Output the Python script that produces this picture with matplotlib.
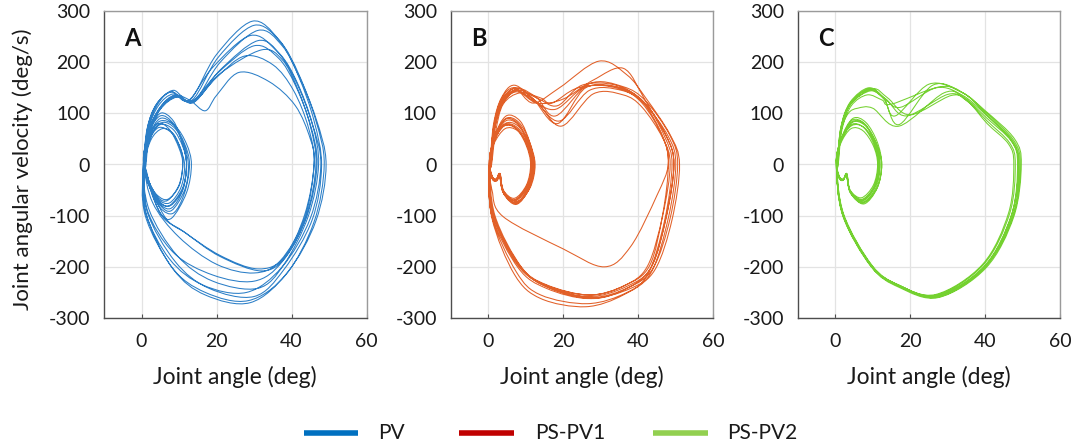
import numpy as np
import matplotlib
matplotlib.use("Agg")
import matplotlib.pyplot as plt
from matplotlib.path import Path
from matplotlib.patches import PathPatch
from matplotlib.lines import Line2D

plt.rcParams['font.family'] = ['Lato', 'DejaVu Sans']
plt.rcParams['axes.unicode_minus'] = False

# ---------------- data ----------------
# Each cycle = one big loop + one small inner loop (anchor points: joint angle [deg], velocity [deg/s])

# Panel A (PV)
A_big_angle = [
    [0.5, 1.5, 4, 8, 13, 20, 29.5, 36.5, 41.5, 46.5, 49.2, 46.5, 39, 29, 17, 8.5, 1],
    [0.8, 1.8, 4.5, 8.5, 13.5, 20.5, 30, 37, 42, 46.5, 48.7, 46, 38.5, 28.5, 17, 8, 1.2],
    [1, 2, 5, 9, 14, 21, 31, 37.5, 42, 46, 48, 45.5, 38, 30, 18, 9, 1.5],
    [0.6, 1.6, 4, 8, 12.5, 19, 29, 36, 41, 45.5, 47.8, 45, 37.5, 28, 16.5, 7.5, 1],
    [1.2, 2.2, 5, 9, 14, 21, 31, 37, 41.5, 45.5, 47.2, 44.5, 38, 31, 19, 9.5, 2],
    [0.8, 2, 4.5, 8.5, 13.5, 20.5, 30, 36.5, 41, 45, 46.8, 44, 37.5, 30, 19, 8.5, 1.5],
    [1, 2, 5, 9.5, 14, 21, 32, 37.5, 41.5, 45, 46.5, 44, 38.5, 32, 21, 12, 6],
    [1, 2, 5, 9, 14, 20, 27.5, 35, 40.5, 44.5, 46, 43.5, 38, 31, 21, 11, 5],
    [1, 2, 5, 9, 13, 17, 20, 26, 34, 41, 45, 46, 43.5, 37, 30, 20, 10, 3],
]
A_big_velocity = [
    [0, 70, 118, 142, 127, 215, 280, 245, 180, 90, 0, -110, -210, -270, -255, -205, -100],
    [3, 72, 120, 145, 126, 210, 272, 240, 175, 85, 0, -112, -215, -266, -250, -200, -95],
    [0, 65, 112, 136, 124, 200, 262, 232, 170, 85, -3, -108, -205, -258, -242, -190, -92],
    [0, 72, 118, 142, 125, 190, 252, 222, 165, 80, 0, -105, -200, -250, -236, -185, -92],
    [0, 68, 112, 134, 122, 185, 242, 215, 160, 80, 0, -100, -195, -242, -228, -178, -88],
    [0, 70, 115, 138, 124, 180, 232, 208, 155, 78, 0, -102, -190, -228, -216, -172, -88],
    [0, 60, 108, 132, 122, 178, 224, 205, 150, 75, 0, -100, -180, -208, -180, -135, -100],
    [0, 62, 108, 132, 124, 170, 212, 195, 145, 72, 0, -98, -182, -204, -178, -130, -95],
    [0, 65, 110, 135, 125, 105, 135, 180, 162, 115, 50, 0, -105, -188, -212, -195, -142, -75],
]
A_loop_angle = [
    [0.5, 2, 5, 9, 12, 13.3, 12, 8, 5, 2.5, 1],
    [0.5, 2, 5, 8.5, 11, 12, 11, 7.5, 4.5, 2, 1],
    [1, 2.5, 5.5, 9, 11.5, 12.5, 11.5, 8, 5, 2.5, 1.2],
    [0.8, 2, 4.5, 8, 10.5, 11, 10, 7, 4.5, 2, 1],
    [0.5, 1.8, 5, 8.5, 11, 12, 11, 8, 5, 2.2, 0.8],
    [1, 2.5, 5.5, 8.5, 10.5, 11.5, 10.5, 7.5, 4.5, 2.2, 1],
    [0.7, 2.2, 5, 8.5, 11.5, 12.8, 11.5, 8.5, 5, 2.5, 1],
    [0.6, 2, 4.5, 7.5, 10, 11, 10, 7, 4.2, 2, 0.9],
    [0.8, 2.2, 5, 8.5, 11, 12, 11, 7.8, 5, 2.5, 1],
]
A_loop_velocity = [
    [0, 55, 85, 75, 40, 0, -55, -105, -95, -50, -10],
    [0, 50, 78, 68, 35, 0, -45, -80, -72, -40, -8],
    [0, 55, 82, 70, 35, -5, -50, -90, -80, -45, -10],
    [0, 45, 72, 62, 30, 0, -40, -70, -65, -35, -8],
    [0, 60, 95, 80, 40, 0, -50, -85, -78, -45, -12],
    [0, 48, 70, 60, 28, -3, -45, -75, -68, -38, -8],
    [0, 58, 90, 78, 40, 0, -55, -95, -85, -48, -10],
    [0, 52, 80, 68, 32, 0, -42, -68, -60, -35, -8],
    [0, 62, 100, 85, 40, 0, -48, -80, -74, -42, -10],
]

# Panel B (PS-PV1)
B_big_angle = [
    [0.5, 1.5, 3.5, 7.5, 12, 18.5, 26, 35, 41.5, 47.5, 49.5, 47.5, 43.5, 37, 27, 16, 8.5, 1.5],
    [0.8, 1.8, 4, 8, 13, 18, 27, 36, 42, 48.5, 50.5, 48.5, 44, 37.5, 27.5, 16, 8.5, 1.5],
    [0.6, 1.6, 3.8, 7.5, 13, 19.5, 28, 36, 41, 46.5, 48.5, 46.5, 42.5, 36.5, 27, 15.5, 8, 1.2],
    [0.5, 1.5, 3.5, 7, 12, 19, 29.5, 37, 42, 48.5, 51, 49, 44.5, 38, 27, 15.5, 8, 1],
    [0.7, 1.7, 4, 7.5, 13, 20, 28, 36, 41.5, 47, 49, 47, 42.5, 36, 26, 14, 7, 1],
    [0.5, 1.5, 3.5, 7, 12, 18, 26, 35, 41, 46.5, 48, 45, 38, 31, 20, 4, 1],
    [0.6, 1.6, 3.8, 8, 13.5, 18.5, 25, 34, 41, 46.5, 48, 46.5, 43, 36.5, 27, 15.5, 8.5, 1.3],
    [0.9, 2, 4, 8.5, 14, 17, 24, 34, 41.5, 47.5, 49.5, 47.5, 43.5, 37.5, 28, 16.5, 9, 1.8],
    [0.5, 1.4, 3.5, 7, 12.5, 19, 27, 35.5, 41.5, 48, 50, 48, 43.5, 37, 26.5, 14, 7.5, 1],
]
B_big_velocity = [
    [0, 75, 125, 150, 128, 80, 150, 150, 122, 55, 0, -100, -200, -238, -258, -238, -200, -100],
    [0, 72, 122, 148, 130, 95, 158, 152, 124, 56, 0, -105, -202, -240, -260, -240, -200, -100],
    [0, 68, 118, 142, 122, 75, 138, 136, 112, 52, 0, -100, -198, -236, -255, -236, -198, -98],
    [0, 75, 128, 150, 120, 150, 202, 175, 130, 58, 0, -108, -205, -242, -262, -242, -202, -100],
    [0, 72, 125, 145, 120, 128, 165, 188, 130, 55, 0, -110, -215, -255, -278, -262, -215, -105],
    [0, 70, 122, 148, 125, 108, 152, 148, 120, 54, 0, -60, -160, -200, -165, -102, -50],
    [0, 70, 120, 145, 128, 115, 155, 155, 124, 55, 0, -98, -198, -236, -255, -235, -198, -98],
    [0, 65, 118, 140, 130, 120, 150, 152, 122, 55, 0, -102, -200, -240, -262, -242, -202, -100],
    [0, 78, 130, 155, 125, 85, 145, 145, 120, 55, 0, -105, -210, -250, -272, -255, -210, -102],
]
B_loop_angle = [
    [0.3, 1.5, 4.5, 8, 11, 12.3, 11, 7.5, 4, 3, 2.2, 1.2, 0.4],
    [0.4, 1.6, 4.5, 8, 10.5, 11.8, 10.5, 7, 4, 3.2, 2.4, 1.3, 0.5],
    [0.3, 1.4, 4.2, 7.5, 10.5, 12, 10.8, 7.5, 4.2, 3.1, 2.3, 1.2, 0.4],
    [0.5, 1.7, 4.8, 8.5, 11, 12.5, 11.2, 7.8, 4.3, 3, 2.1, 1.1, 0.4],
    [0.3, 1.5, 4.5, 7.8, 10.2, 11.3, 10.2, 7, 4, 3.1, 2.2, 1.2, 0.4],
    [0.4, 1.6, 4.6, 8, 10.8, 12, 10.8, 7.4, 4.1, 3, 2.2, 1.2, 0.4],
    [0.3, 1.5, 4.4, 7.8, 10.6, 11.6, 10.6, 7.2, 4, 3.1, 2.3, 1.3, 0.4],
    [0.5, 1.6, 4.7, 8.2, 11, 12.2, 11, 7.6, 4.2, 3.2, 2.4, 1.3, 0.5],
    [0.3, 1.4, 4.3, 7.6, 10.3, 11.5, 10.3, 7, 3.9, 3, 2.2, 1.2, 0.4],
]
B_loop_velocity = [
    [0, 45, 80, 75, 40, 0, -45, -75, -55, -20, -30, -28, -10],
    [0, 50, 88, 80, 42, 0, -42, -70, -52, -18, -28, -26, -8],
    [0, 42, 75, 70, 38, 0, -48, -78, -58, -22, -32, -30, -10],
    [0, 55, 95, 85, 45, 0, -45, -72, -54, -20, -30, -27, -9],
    [0, 40, 70, 66, 36, 0, -40, -66, -50, -18, -28, -26, -8],
    [0, 48, 85, 78, 42, 0, -44, -74, -56, -21, -31, -29, -10],
    [0, 46, 78, 72, 40, 0, -43, -71, -53, -19, -29, -27, -9],
    [0, 52, 90, 82, 44, 0, -46, -76, -57, -21, -31, -28, -10],
    [0, 44, 76, 70, 38, 0, -42, -69, -52, -19, -29, -27, -9],
]

# Panel C (PS-PV2)
C_big_angle = [
    [0.5, 1.5, 4, 9, 13, 17, 26, 34, 40, 47.5, 49.3, 47.5, 40, 27.5, 17, 9.7, 2.1],
    [0.7, 1.7, 4.2, 9, 13, 16, 25, 33.5, 40, 47.8, 49.6, 47.6, 40.2, 27.5, 17, 9.6, 2],
    [0.6, 1.6, 4.1, 9.5, 13.5, 17.5, 27, 34, 40, 47, 48.8, 47, 39.8, 27.2, 17, 9.8, 2.2],
    [0.5, 1.5, 4, 9, 13.5, 19, 30, 35, 40.5, 46.5, 48, 46.5, 39.5, 27, 17, 9.8, 2.2],
    [0.8, 1.8, 4.3, 8.5, 12.5, 15, 28, 34.5, 40, 47.2, 49, 47.3, 40, 27.6, 17, 9.7, 2.1],
    [0.6, 1.6, 4.1, 10, 14, 20, 31, 35.5, 40.5, 46.2, 47.6, 46.2, 39.3, 26.8, 16.8, 9.8, 2.3],
    [0.5, 1.5, 3.5, 6, 10, 17, 29, 34.5, 40.2, 47, 48.6, 47, 39.9, 27.3, 17, 9.7, 2.1],
]
C_big_velocity = [
    [0, 72, 122, 150, 128, 78, 155, 140, 103, 48, 0, -100, -200, -258, -238, -200, -100],
    [0, 70, 120, 148, 130, 95, 157, 142, 105, 50, 0, -102, -202, -260, -240, -200, -100],
    [0, 70, 118, 144, 126, 112, 150, 135, 98, 46, 0, -98, -198, -256, -236, -199, -99],
    [0, 72, 120, 146, 128, 95, 137, 125, 85, 42, 0, -96, -196, -255, -236, -198, -98],
    [0, 68, 115, 136, 126, 118, 152, 138, 100, 47, 0, -100, -200, -259, -238, -200, -100],
    [0, 70, 118, 148, 130, 97, 135, 122, 80, 40, 0, -95, -195, -254, -235, -197, -98],
    [0, 65, 100, 110, 110, 75, 140, 130, 92, 45, 0, -99, -199, -257, -237, -199, -99],
]
C_loop_angle = [
    [0.3, 1.5, 4.5, 8, 11, 12.4, 11.2, 7.5, 4, 3, 2.2, 1.2, 0.4],
    [0.4, 1.6, 4.4, 7.8, 10.6, 11.8, 10.6, 7.2, 4, 3.1, 2.3, 1.3, 0.5],
    [0.3, 1.4, 4.2, 7.4, 10.2, 11.3, 10.2, 7, 4, 3.1, 2.2, 1.2, 0.4],
    [0.5, 1.7, 4.7, 8.2, 11.2, 12.4, 11.2, 7.7, 4.2, 3, 2.1, 1.1, 0.4],
    [0.3, 1.5, 4.4, 7.8, 10.6, 11.7, 10.6, 7.3, 4, 3.1, 2.3, 1.3, 0.4],
    [0.4, 1.6, 4.6, 8, 10.9, 12, 10.9, 7.5, 4.1, 3, 2.2, 1.2, 0.4],
    [0.3, 1.4, 4.3, 7.6, 10.4, 11.5, 10.4, 7.1, 3.9, 3, 2.2, 1.2, 0.4],
]
C_loop_velocity = [
    [0, 45, 82, 76, 40, 0, -45, -75, -55, -20, -30, -28, -10],
    [0, 48, 86, 80, 42, 0, -42, -70, -52, -18, -28, -26, -8],
    [0, 40, 70, 66, 36, 0, -40, -65, -50, -18, -28, -26, -8],
    [0, 52, 90, 82, 44, 0, -46, -77, -57, -21, -31, -28, -10],
    [0, 45, 76, 72, 40, 0, -43, -71, -53, -19, -29, -27, -9],
    [0, 50, 84, 78, 42, 0, -44, -73, -55, -20, -30, -28, -10],
    [0, 44, 78, 72, 38, 0, -42, -68, -51, -19, -29, -27, -9],
]

panel_letters = ["A", "B", "C"]
series_names = ["PV", "PS-PV1", "PS-PV2"]
x_ticks = [0, 20, 40, 60]
y_ticks = [-300, -200, -100, 0, 100, 200, 300]

line_colors = ["#1f77c4", "#e0571c", "#6dcf25"]
legend_colors = ["#0070C0", "#C00000", "#92D050"]


# ---------------- drawing helpers ----------------
def trajectory(big_a, big_v, loop_a, loop_v):
    xs, ys = [], []
    for ba, bv, la, lv in zip(big_a, big_v, loop_a, loop_v):
        xs += list(ba) + list(la)
        ys += list(bv) + list(lv)
    return np.array(xs, float), np.array(ys, float)


def smooth_path(xs, ys):
    P = np.column_stack([xs, ys])
    n = len(P)
    verts = [P[0]]
    codes = [Path.MOVETO]
    for i in range(n - 1):
        p0 = P[i - 1] if i > 0 else P[i]
        p1 = P[i]
        p2 = P[i + 1]
        p3 = P[i + 2] if i + 2 < n else P[i + 1]
        verts += [p1 + (p2 - p0) / 6.0, p2 - (p3 - p1) / 6.0, p2]
        codes += [Path.CURVE4] * 3
    return Path(np.array(verts), codes)


W, H = 1076, 444
fig = plt.figure(figsize=(W / 100, H / 100), dpi=100)

panels = [
    (A_big_angle, A_big_velocity, A_loop_angle, A_loop_velocity),
    (B_big_angle, B_big_velocity, B_loop_angle, B_loop_velocity),
    (C_big_angle, C_big_velocity, C_loop_angle, C_loop_velocity),
]
lefts_px = [104, 450.7, 797.7]
ax_w_px = 262.6
top_px, bot_px = 11, 318

for k, (ba, bv, la, lv) in enumerate(panels):
    ax = fig.add_axes([lefts_px[k] / W, 1 - bot_px / H, ax_w_px / W, (bot_px - top_px) / H])
    ax.set_xlim(-10, 60)
    ax.set_ylim(-300, 300)
    ax.set_xticks(x_ticks)
    ax.set_yticks(y_ticks)
    ax.grid(True, color="#e3e3e3", linewidth=0.9)
    ax.set_axisbelow(True)
    for s in ["top", "right"]:
        ax.spines[s].set_color("#9a9a9a")
        ax.spines[s].set_linewidth(1.0)
    for s in ["bottom", "left"]:
        ax.spines[s].set_color("#4d4d4d")
        ax.spines[s].set_linewidth(1.0)
    ax.tick_params(axis="x", direction="in", length=3, width=0.8, color="#4d4d4d",
                   labelsize=14, pad=11, labelcolor="#1a1a1a")
    ax.tick_params(axis="y", direction="in", length=0, labelsize=14, pad=10,
                   labelcolor="#1a1a1a")
    xs, ys = trajectory(ba, bv, la, lv)
    ax.add_patch(PathPatch(smooth_path(xs, ys), fill=False, edgecolor=line_colors[k],
                           linewidth=0.75, alpha=0.95))
    ax.set_xlabel("Joint angle (deg)", fontsize=16.5, color="#1a1a1a")
    ax.xaxis.set_label_coords(0.5, -0.155)
    ax.text(-4.6, 232, panel_letters[k], fontsize=17, fontweight="bold",
            ha="left", va="baseline", color="#111111")

fig.text(23 / W, 1 - 169 / H, "Joint angular velocity (deg/s)", rotation=90,
         ha="center", va="center", fontsize=16, color="#1a1a1a")

# legend
leg_line_x = [(304, 358), (459, 514), (653, 708)]
leg_text_x = [378, 535, 727]
leg_y = 1 - 433 / H
for k in range(3):
    x0, x1 = leg_line_x[k]
    fig.add_artist(Line2D([x0 / W, x1 / W], [leg_y, leg_y], color=legend_colors[k],
                          linewidth=4, solid_capstyle="butt", transform=fig.transFigure))
    fig.text(leg_text_x[k] / W, leg_y, series_names[k], ha="left", va="center",
             fontsize=15, color="#1a1a1a")

fig.savefig("out.png", dpi=100)
